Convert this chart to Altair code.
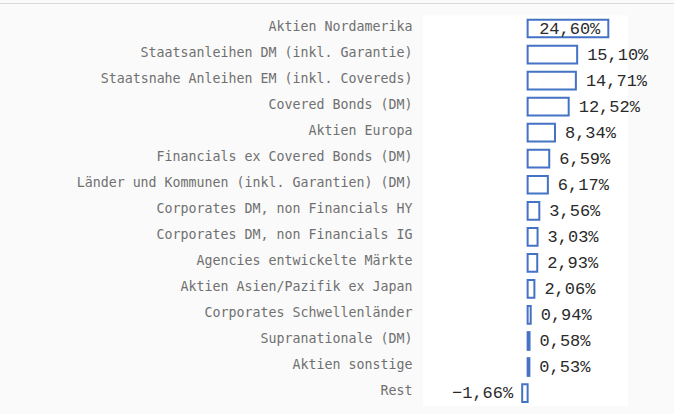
import altair as alt
import pandas as pd

categories = [
    "Aktien Nordamerika",
    "Staatsanleihen DM (inkl. Garantie)",
    "Staatsnahe Anleihen EM (inkl. Covereds)",
    "Covered Bonds (DM)",
    "Aktien Europa",
    "Financials ex Covered Bonds (DM)",
    "Länder und Kommunen (inkl. Garantien) (DM)",
    "Corporates DM, non Financials HY",
    "Corporates DM, non Financials IG",
    "Agencies entwickelte Märkte",
    "Aktien Asien/Pazifik ex Japan",
    "Corporates Schwellenländer",
    "Supranationale (DM)",
    "Aktien sonstige",
    "Rest",
]
values = [24.60, 15.10, 14.71, 12.52, 8.34, 6.59, 6.17, 3.56, 3.03, 2.93, 2.06, 0.94, 0.58, 0.53, -1.66]

df = pd.DataFrame({"cat": categories, "v": values})
df["label"] = [f"{v:.2f}".replace(".", ",").replace("-", "−") + "%" for v in values]

BLUE = "#4472C4"
MONO = "Liberation Mono"

base = alt.Chart(df).encode(
    y=alt.Y("cat:N", sort=categories,
            scale=alt.Scale(paddingInner=0.32, paddingOuter=0.16),
            axis=alt.Axis(title=None, domain=False, ticks=False, labelPadding=11,
                          labelOffset=-2,
                          labelFont="DejaVu Sans Mono", labelFontSize=13.3,
                          labelColor="#707070", labelLimit=500)),
)

x_enc = alt.X("v:Q", scale=alt.Scale(domain=[-31.9, 30.6], nice=False, zero=True),
              axis=None)

bars = base.mark_bar(fill="white", stroke=BLUE, strokeWidth=2).encode(
    x=x_enc, x2=alt.datum(0)
)

txt_props = dict(font=MONO, fontSize=17, color="#2a2a2a", baseline="middle")

pos_out = base.transform_filter("datum.v >= 0 && datum.v < 20").mark_text(
    align="left", dx=10, **txt_props).encode(x=x_enc, text="label:N")
pos_in = base.transform_filter("datum.v >= 20").mark_text(
    align="right", dx=-8, **txt_props).encode(x=x_enc, text="label:N")
neg = base.transform_filter("datum.v < 0").mark_text(
    align="right", dx=-9, **txt_props).encode(x=x_enc, text="label:N")

topline = alt.Chart(pd.DataFrame({"a": [0]})).mark_rule(
    color="#d9d9d9", strokeWidth=1).encode(
    x=alt.value(-423), x2=alt.value(251), y=alt.value(-12))

chart = alt.layer(topline, bars, pos_out, pos_in, neg).properties(
    width=205, height=390.6,
    background="#fafafa",
    padding={"left": 423, "top": 15.5, "right": 46, "bottom": 8},
    autosize=alt.AutoSizeParams(type="none"),
).configure_view(fill="white", stroke=None)

chart.save("out.html", embed_options={"renderer": "svg", "actions": False})
